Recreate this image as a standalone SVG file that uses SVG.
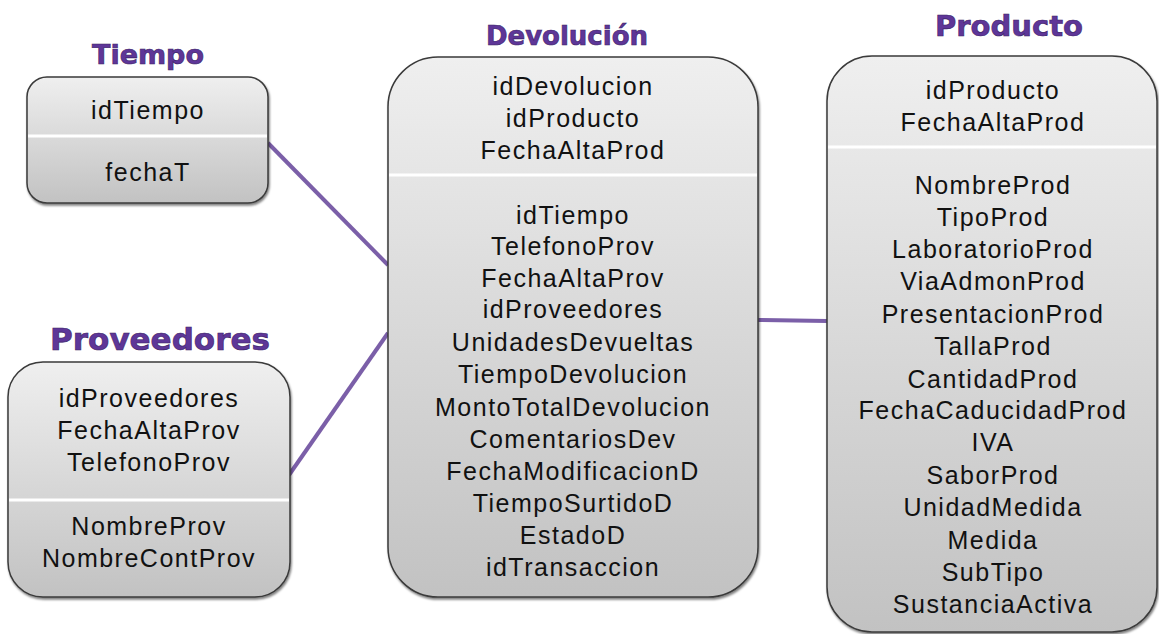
<svg xmlns="http://www.w3.org/2000/svg" width="1159" height="634" viewBox="0 0 1159 634">
<defs>
<linearGradient id="g" x1="0" y1="0" x2="0" y2="1">
<stop offset="0" stop-color="#efefef"/>
<stop offset="1" stop-color="#c2c2c2"/>
</linearGradient>
<filter id="sh" x="-5%" y="-5%" width="110%" height="110%">
<feDropShadow dx="1" dy="2" stdDeviation="1.2" flood-color="#000" flood-opacity="0.5"/>
</filter>
</defs>
<style>
.box{fill:url(#g);stroke:#3a3a3a;stroke-width:1.5;filter:url(#sh)}
.div{stroke:#ffffff;stroke-width:3}
.t{font-family:"Liberation Sans",Arial,sans-serif;font-size:25px;letter-spacing:1.5px;fill:#111;text-anchor:middle}
.h{font-family:"DejaVu Sans",sans-serif;font-weight:bold;fill:#5e3698;text-anchor:middle;stroke:#3a2266;stroke-width:0.6}
.c{stroke:#7b5fa8;stroke-width:4;fill:none;stroke-linecap:butt}
</style>
<g id="connectors">
<line class="c" x1="268" y1="143" x2="388" y2="265"/>
<line class="c" x1="289" y1="475" x2="388" y2="333"/>
<line class="c" x1="758" y1="320" x2="827" y2="321"/>
</g>
<g id="tiempo">
<text class="h" x="148" y="64" font-size="27">Tiempo</text>
<rect class="box" x="27" y="77" width="241" height="126" rx="20"/>
<line class="div" x1="28" y1="136" x2="267" y2="136"/>
<text class="t" x="148" y="119">idTiempo</text>
<text class="t" x="148" y="181">fechaT</text>
</g>
<g id="proveedores">
<text class="h" x="160" y="350" font-size="31">Proveedores</text>
<rect class="box" x="8" y="362" width="282" height="235" rx="35"/>
<line class="div" x1="9" y1="500" x2="289" y2="500"/>
<text class="t" x="149" y="407">idProveedores</text>
<text class="t" x="149" y="439">FechaAltaProv</text>
<text class="t" x="149" y="471">TelefonoProv</text>
<text class="t" x="149" y="535">NombreProv</text>
<text class="t" x="149" y="567">NombreContProv</text>
</g>
<g id="devolucion">
<text class="h" x="567" y="45" font-size="26">Devolución</text>
<rect class="box" x="388" y="57" width="370" height="540" rx="50"/>
<line class="div" x1="389" y1="175" x2="757" y2="175"/>
<text class="t" x="573" y="95">idDevolucion</text>
<text class="t" x="573" y="127">idProducto</text>
<text class="t" x="573" y="159">FechaAltaProd</text>
<text class="t" x="573" y="224">idTiempo</text>
<text class="t" x="573" y="255">TelefonoProv</text>
<text class="t" x="573" y="287">FechaAltaProv</text>
<text class="t" x="573" y="318">idProveedores</text>
<text class="t" x="573" y="351">UnidadesDevueltas</text>
<text class="t" x="573" y="383">TiempoDevolucion</text>
<text class="t" x="573" y="416">MontoTotalDevolucion</text>
<text class="t" x="573" y="448">ComentariosDev</text>
<text class="t" x="573" y="480">FechaModificacionD</text>
<text class="t" x="573" y="512">TiempoSurtidoD</text>
<text class="t" x="573" y="544">EstadoD</text>
<text class="t" x="573" y="576">idTransaccion</text>
</g>
<g id="producto">
<text class="h" x="1009" y="36" font-size="29">Producto</text>
<rect class="box" x="827" y="56" width="330" height="576" rx="45"/>
<line class="div" x1="828" y1="147" x2="1156" y2="147"/>
<text class="t" x="993" y="99">idProducto</text>
<text class="t" x="993" y="131">FechaAltaProd</text>
<text class="t" x="993" y="194">NombreProd</text>
<text class="t" x="993" y="226">TipoProd</text>
<text class="t" x="993" y="258">LaboratorioProd</text>
<text class="t" x="993" y="290">ViaAdmonProd</text>
<text class="t" x="993" y="323">PresentacionProd</text>
<text class="t" x="993" y="355">TallaProd</text>
<text class="t" x="993" y="388">CantidadProd</text>
<text class="t" x="993" y="419">FechaCaducidadProd</text>
<text class="t" x="993" y="451">IVA</text>
<text class="t" x="993" y="484">SaborProd</text>
<text class="t" x="993" y="516">UnidadMedida</text>
<text class="t" x="993" y="549">Medida</text>
<text class="t" x="993" y="581">SubTipo</text>
<text class="t" x="993" y="613">SustanciaActiva</text>
</g>
</svg>
